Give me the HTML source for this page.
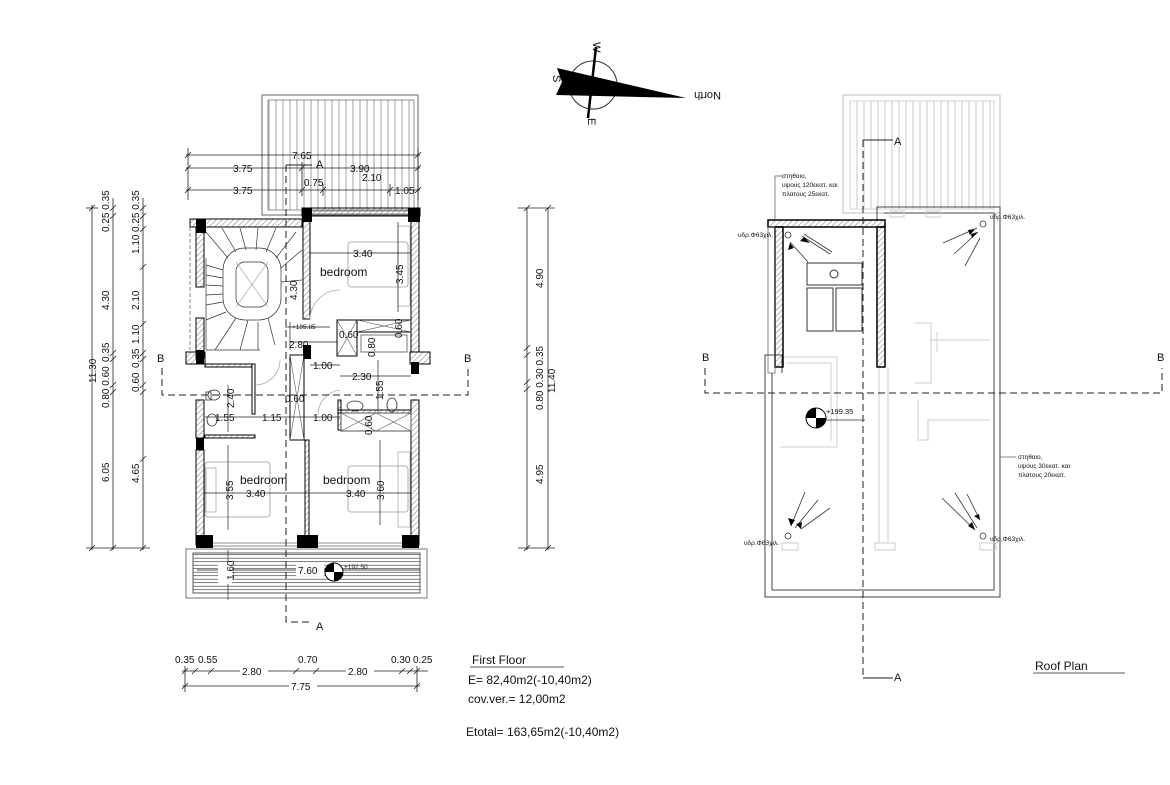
<!DOCTYPE html>
<html><head><meta charset="utf-8"><style>
html,body{margin:0;padding:0;background:#fff}
svg{display:block}
text{font-family:"Liberation Sans","DejaVu Sans",sans-serif;fill:#111}
.d{font-size:10px}
.s{font-size:6.5px}
</style></head><body>
<svg width="1170" height="785" viewBox="0 0 1170 785" xmlns="http://www.w3.org/2000/svg">
<defs>
<pattern id="vl" width="7" height="10" patternUnits="userSpaceOnUse"><line x1="3" y1="0" x2="3" y2="10" stroke="#888" stroke-width="0.8"/></pattern>
<pattern id="vl2" width="7" height="10" patternUnits="userSpaceOnUse"><line x1="3" y1="0" x2="3" y2="10" stroke="#bbb" stroke-width="0.8"/></pattern>
<pattern id="hl" width="10" height="3.5" patternUnits="userSpaceOnUse"><line x1="0" y1="1.7" x2="10" y2="1.7" stroke="#444" stroke-width="0.7"/></pattern>
<pattern id="hat" width="4" height="4" patternUnits="userSpaceOnUse" patternTransform="rotate(45)"><line x1="0" y1="0" x2="0" y2="4" stroke="#555" stroke-width="0.8"/></pattern>
</defs>

<!-- ===== FIRST FLOOR ===== -->
<rect x="262" y="95" width="156" height="120" fill="none" stroke="#666" stroke-width="1"/>
<rect x="268" y="100" width="146" height="110" fill="url(#vl)" stroke="#777" stroke-width="0.8"/>

<g stroke="#222" stroke-width="0.8" fill="none">
<line x1="186" y1="155" x2="420" y2="155"/>
<line x1="186" y1="168" x2="420" y2="168"/>
<line x1="186" y1="190" x2="420" y2="190"/>
<line x1="188" y1="148" x2="188" y2="200"/>
<line x1="418" y1="148" x2="418" y2="200"/>
<line x1="302" y1="162" x2="302" y2="196"/>
<line x1="323" y1="184" x2="323" y2="196"/>
<line x1="390" y1="184" x2="390" y2="196"/>
<path d="M185 158l6-6M185 171l6-6M185 193l6-6M415 158l6-6M415 171l6-6M415 193l6-6M299 171l6-6M299 193l6-6M320 193l6-6M387 193l6-6"/>
</g>
<text class="d" x="292" y="159">7.65</text>
<text class="d" x="233" y="172">3.75</text>
<text class="d" x="350" y="172">3.90</text>
<text class="d" x="362" y="181">2.10</text>
<text class="d" x="233" y="194">3.75</text>
<text class="d" x="304" y="186">0.75</text>
<text class="d" x="395" y="194">1.05</text>

<g stroke="#000" stroke-width="1">
<rect x="190" y="219" width="112" height="8" fill="url(#hat)"/>
<rect x="302" y="208" width="118" height="8" fill="url(#hat)"/>
<rect x="196" y="227" width="8" height="60" fill="url(#hat)"/>
<rect x="196" y="318" width="8" height="40" fill="url(#hat)"/>
<rect x="196" y="400" width="8" height="38" fill="url(#hat)"/>
<rect x="196" y="450" width="8" height="95" fill="url(#hat)"/>
<rect x="303" y="216" width="7" height="103" fill="url(#hat)"/>
<rect x="411" y="216" width="8" height="136" fill="url(#hat)"/>
<rect x="411" y="400" width="8" height="145" fill="url(#hat)"/>
<rect x="186" y="352" width="19" height="12" fill="url(#hat)"/>
<rect x="410" y="352" width="20" height="12" fill="url(#hat)"/>
<rect x="305" y="440" width="4" height="103" fill="url(#hat)"/>
</g>
<g fill="#000">
<rect x="196" y="219" width="10" height="14"/>
<rect x="302" y="208" width="10" height="14"/>
<rect x="408" y="208" width="12" height="14"/>
<rect x="196" y="350" width="8" height="14"/>
<rect x="303" y="345" width="8" height="14"/>
<rect x="411" y="362" width="8" height="12"/>
<rect x="196" y="438" width="8" height="12"/>
<rect x="196" y="535" width="17" height="13"/>
<rect x="297" y="535" width="21" height="13"/>
<rect x="402" y="535" width="17" height="13"/>
</g>
<g stroke="#666" stroke-width="0.8" fill="none">
<line x1="312" y1="211" x2="408" y2="211"/><line x1="312" y1="214" x2="408" y2="214"/>
<line x1="213" y1="543" x2="297" y2="543"/><line x1="213" y1="546" x2="297" y2="546"/>
<line x1="318" y1="543" x2="402" y2="543"/><line x1="318" y1="546" x2="402" y2="546"/>
<line x1="190" y1="227" x2="190" y2="350" stroke-dasharray="4 2"/>
</g>

<g stroke="#333" stroke-width="0.7" fill="none">
<rect x="236" y="262" width="32" height="45" rx="9"/>
<rect x="223" y="248" width="58" height="72" rx="22"/>
<line x1="236" y1="262" x2="268" y2="307" stroke="#aaa"/><line x1="268" y1="262" x2="236" y2="307" stroke="#aaa"/>
<path d="M206 232L228 258M222 228L236 252M240 228L246 250M258 228L256 250M276 228L266 252M296 232L276 258M302 250L281 268M302 280L281 282M206 265L223 270M206 275L223 278M206 285L223 286M206 295L223 294M206 305L223 302M206 320L226 312M215 350L236 318M240 350L248 320M258 350L258 322M275 345L268 318"/>
<line x1="206" y1="258" x2="206" y2="350"/>
<line x1="206" y1="350" x2="260" y2="350"/>
</g>

<g stroke="#000" stroke-width="1" fill="none">
<rect x="205" y="364" width="50" height="3" fill="url(#hat)"/>
<rect x="252" y="364" width="3" height="50" fill="#fff"/>
<rect x="205" y="435" width="50" height="3" fill="url(#hat)"/>
<rect x="290" y="355" width="14" height="85"/>
<path d="M290 355l14 85M304 355l-14 85" stroke="#555" stroke-width="0.6"/>
<rect x="337" y="320" width="20" height="36"/>
<path d="M337 320l20 36M357 320l-20 36" stroke="#555" stroke-width="0.6"/>
<rect x="357" y="320" width="54" height="12"/>
<path d="M357 320l54 12M411 320l-54 12" stroke="#555" stroke-width="0.6"/>
<rect x="361" y="335" width="46" height="17" stroke="#777"/>
<rect x="338" y="410" width="73" height="3" fill="url(#hat)"/>
<rect x="338" y="400" width="3" height="30" fill="url(#hat)"/>
<rect x="341" y="413" width="70" height="18" stroke="#555"/>
<path d="M341 413l35 18M376 413l-35 18M376 413l35 18M411 413l-35 18" stroke="#555" stroke-width="0.6"/>
</g>
<g stroke="#333" stroke-width="0.8" fill="none">
<ellipse cx="214" cy="395" rx="6" ry="5"/><rect x="206" y="392" width="5" height="8"/>
<ellipse cx="212" cy="420" rx="5" ry="6"/>
<ellipse cx="355" cy="406" rx="8" ry="5"/>
<ellipse cx="392" cy="405" rx="5" ry="7"/>
<path d="M310 320a30 30 0 0 1 30 -30" stroke="#aaa"/>
<path d="M255 385a25 25 0 0 0 25 -25" stroke="#aaa"/>
<path d="M318 415a25 25 0 0 1 22 -25" stroke="#aaa"/>
<rect x="348" y="242" width="60" height="45" rx="3" stroke="#999"/>
<rect x="398" y="226" width="12" height="80" stroke="#aaa"/>
<rect x="205" y="462" width="65" height="55" rx="3" stroke="#999"/>
<rect x="206" y="468" width="10" height="44" stroke="#aaa"/>
<rect x="348" y="466" width="60" height="46" rx="3" stroke="#999"/>
<rect x="398" y="452" width="12" height="75" stroke="#aaa"/>
</g>

<g stroke="#222" stroke-width="0.7" fill="none">
<line x1="309" y1="253" x2="411" y2="253"/>
<line x1="398" y1="222" x2="398" y2="312"/>
<line x1="290" y1="322" x2="290" y2="350"/>
<line x1="290" y1="342" x2="337" y2="342"/>
<line x1="285" y1="327" x2="330" y2="327"/>
<line x1="310" y1="365" x2="340" y2="365"/>
<line x1="340" y1="376" x2="411" y2="376"/>
<line x1="205" y1="417" x2="340" y2="417"/>
<line x1="204" y1="493" x2="411" y2="493"/>
<line x1="228" y1="445" x2="228" y2="530"/>
<line x1="380" y1="440" x2="380" y2="525"/>
<line x1="228" y1="385" x2="228" y2="432"/>
<line x1="378" y1="360" x2="378" y2="412"/>
<line x1="197" y1="570" x2="420" y2="570"/>
<line x1="228" y1="550" x2="228" y2="600"/>
</g>
<text class="d" x="353" y="257">3.40</text>
<text class="d" x="320" y="276" style="font-size:12px">bedroom</text>
<text class="d" transform="translate(403,284) rotate(-90)">3.45</text>
<text class="d" transform="translate(297,300) rotate(-90)">4.30</text>
<text class="d" x="289" y="348">2.80</text>
<text class="s" x="292" y="329">+195.85</text>
<text class="d" x="339" y="338">0.60</text>
<text class="d" transform="translate(402,338) rotate(-90)">0.60</text>
<text class="d" transform="translate(375,357) rotate(-90)">0.80</text>
<text class="d" x="313" y="369">1.00</text>
<text class="d" x="352" y="380">2.30</text>
<text class="d" transform="translate(383,400) rotate(-90)">1.55</text>
<text class="d" transform="translate(234,408) rotate(-90)">2.40</text>
<text class="d" x="285" y="402">0.60</text>
<text class="d" x="215" y="421">1.55</text>
<text class="d" x="262" y="421">1.15</text>
<text class="d" x="313" y="421">1.00</text>
<text class="d" transform="translate(372,435) rotate(-90)">0.60</text>
<text class="d" x="240" y="484" style="font-size:12px">bedroom</text>
<text class="d" x="323" y="484" style="font-size:12px">bedroom</text>
<text class="d" x="246" y="497">3.40</text>
<text class="d" x="346" y="497">3.40</text>
<text class="d" transform="translate(233,500) rotate(-90)">3.55</text>
<text class="d" transform="translate(384,500) rotate(-90)">3.60</text>

<rect x="186" y="549" width="241" height="49" fill="none" stroke="#555" stroke-width="0.8"/>
<rect x="193" y="553" width="227" height="40" fill="url(#hl)" stroke="#333" stroke-width="0.8"/>
<rect x="218" y="562" width="14" height="22" fill="#fff"/>
<text class="d" transform="translate(234,580) rotate(-90)">1.60</text>
<rect x="296" y="564" width="28" height="12" fill="#fff"/>
<text class="d" x="298" y="574">7.60</text>
<circle cx="334" cy="572" r="9" fill="#fff" stroke="#000"/>
<path d="M334 563a9 9 0 0 0 -9 9h9zM334 581a9 9 0 0 0 9 -9h-9z" fill="#000"/>
<text class="s" x="344" y="569">+192.50</text>

<g stroke="#222" stroke-width="1" fill="none">
<path d="M286 165V622h26" stroke-dasharray="7 4"/>
<path d="M286 165h26"/>
</g>
<text class="d" x="316" y="168" style="font-size:11px">A</text>
<text class="d" x="316" y="630" style="font-size:11px">A</text>
<path d="M162 368V395H468V368" fill="none" stroke="#222" stroke-width="1" stroke-dasharray="7 4"/>
<text x="157" y="362" style="font-size:11px">B</text>
<text x="464" y="362" style="font-size:11px">B</text>

<g stroke="#222" stroke-width="0.8" fill="none">
<line x1="92" y1="205" x2="92" y2="550"/>
<line x1="113" y1="198" x2="113" y2="550"/>
<line x1="143" y1="198" x2="143" y2="550"/>
<line x1="86" y1="548" x2="150" y2="548"/>
<line x1="86" y1="208" x2="98" y2="208"/>
<path d="M89 211l6-6M110 211l6-6M110 219l6-6M110 356l6-6M110 362l6-6M110 388l6-6M110 395l6-6M110 551l6-6M89 551l6-6M140 211l6-6M140 219l6-6M140 232l6-6M140 270l6-6M140 327l6-6M140 356l6-6M140 362l6-6M140 388l6-6M140 395l6-6M140 462l6-6M140 551l6-6"/>
<line x1="527" y1="208" x2="527" y2="550"/>
<line x1="548" y1="208" x2="548" y2="550"/>
<line x1="518" y1="208" x2="555" y2="208"/>
<line x1="518" y1="548" x2="555" y2="548"/>
<path d="M524 211l6-6M545 211l6-6M524 351l6-6M524 358l6-6M524 385l6-6M524 392l6-6M524 551l6-6M545 551l6-6"/>
</g>
<text class="d" transform="translate(96,383) rotate(-90)">11.30</text>
<text class="d" transform="translate(109,232) rotate(-90)">0.25 0.35</text>
<text class="d" transform="translate(109,310) rotate(-90)">4.30</text>
<text class="d" transform="translate(109,362) rotate(-90)">0.35</text>
<text class="d" transform="translate(109,408) rotate(-90)">0.80 0.60</text>
<text class="d" transform="translate(109,482) rotate(-90)">6.05</text>
<text class="d" transform="translate(139,232) rotate(-90)">0.25 0.35</text>
<text class="d" transform="translate(139,254) rotate(-90)">1.10</text>
<text class="d" transform="translate(139,310) rotate(-90)">2.10</text>
<text class="d" transform="translate(139,344) rotate(-90)">1.10</text>
<text class="d" transform="translate(139,368) rotate(-90)">0.35</text>
<text class="d" transform="translate(139,392) rotate(-90)">0.60</text>
<text class="d" transform="translate(139,483) rotate(-90)">4.65</text>
<text class="d" transform="translate(543,288) rotate(-90)">4.90</text>
<text class="d" transform="translate(543,410) rotate(-90)">0.80 0.30 0.35</text>
<text class="d" transform="translate(555,393) rotate(-90)">11.40</text>
<text class="d" transform="translate(543,484) rotate(-90)">4.95</text>

<g stroke="#222" stroke-width="0.8" fill="none">
<line x1="182" y1="671" x2="428" y2="671"/>
<line x1="182" y1="686" x2="420" y2="686"/>
<line x1="185" y1="666" x2="185" y2="692"/>
<line x1="417" y1="666" x2="417" y2="692"/>
<path d="M182 674l6-6M192 674l6-6M208 674l6-6M293 674l6-6M313 674l6-6M399 674l6-6M407 674l6-6M414 674l6-6M182 689l6-6M414 689l6-6"/>
</g>
<text class="d" x="175" y="663">0.35</text><text class="d" x="198" y="663">0.55</text>
<text class="d" x="298" y="663">0.70</text>
<text class="d" x="391" y="663">0.30</text><text class="d" x="413" y="663">0.25</text>
<rect x="240" y="666" width="28" height="10" fill="#fff"/><text class="d" x="242" y="675">2.80</text>
<rect x="346" y="666" width="28" height="10" fill="#fff"/><text class="d" x="348" y="675">2.80</text>
<rect x="289" y="681" width="28" height="10" fill="#fff"/><text class="d" x="291" y="690">7.75</text>

<text x="472" y="664" style="font-size:12px">First Floor</text>
<line x1="470" y1="667" x2="564" y2="667" stroke="#222" stroke-width="0.8"/>
<text x="468" y="684" style="font-size:12px">E= 82,40m2(-10,40m2)</text>
<text x="468" y="703" style="font-size:12px">cov.ver.= 12,00m2</text>
<text x="466" y="736" style="font-size:12px">Etotal= 163,65m2(-10,40m2)</text>

<circle cx="593" cy="85" r="24" fill="none" stroke="#333" stroke-width="1"/>
<line x1="596" y1="47" x2="588" y2="118" stroke="#000" stroke-width="2.5"/>
<polygon points="557,68 686,98 556,95 562,82" fill="#000"/>
<text x="549" y="79" style="font-size:11px" transform="rotate(90 553 79)">S</text>
<text x="589" y="46" style="font-size:11px" transform="rotate(90 593 46)">W</text>
<text x="584" y="122" style="font-size:11px" transform="rotate(90 588 122)">E</text>
<text x="689" y="98" style="font-size:11px" transform="rotate(180 705 95)">North</text>

<!-- ===== ROOF PLAN ===== -->
<rect x="843" y="95" width="157" height="118" fill="none" stroke="#bbb" stroke-width="1"/>
<rect x="850" y="101" width="144" height="108" fill="url(#vl2)" stroke="#ccc" stroke-width="0.8"/>
<g fill="none" stroke="#444" stroke-width="1">
<path d="M877 220V207H1000V597H765V355H782V373"/>
<path d="M772 373V590H994V213H884"/>
</g>
<g fill="none" stroke="#ccc" stroke-width="1">
<path d="M781 357h56v90h-57M787 363h44v78"/>
<path d="M915 323h16v60h-16M930 340h60M937 332v20M918 400v40h10v-20h62"/>
<rect x="875" y="543" width="20" height="7"/><rect x="782" y="543" width="16" height="7"/>
<rect x="980" y="543" width="16" height="7"/>
<rect x="890" y="211" width="14" height="6"/><rect x="926" y="211" width="14" height="6"/>
<line x1="879" y1="367" x2="879" y2="543"/><line x1="888" y1="367" x2="888" y2="543"/>
</g>
<rect x="768" y="220" width="117" height="7" fill="url(#hat)" stroke="#000" stroke-width="1.5"/>
<rect x="775" y="227" width="8" height="140" fill="url(#hat)" stroke="#000" stroke-width="1.5"/>
<rect x="877" y="227" width="8" height="140" fill="url(#hat)" stroke="#000" stroke-width="1.5"/>
<rect x="768" y="227" width="7" height="146" fill="none" stroke="#555" stroke-width="0.7"/>
<g fill="none" stroke="#333" stroke-width="1">
<rect x="807" y="263" width="55" height="22"/>
<circle cx="834" cy="274" r="4"/>
<rect x="807" y="288" width="26" height="43"/><rect x="836" y="288" width="26" height="43"/>
</g>
<g fill="none" stroke="#333" stroke-width="0.8">
<circle cx="788" cy="235" r="3"/><circle cx="983" cy="224" r="3"/>
<circle cx="788" cy="536" r="3"/><circle cx="983" cy="536" r="3"/>
<path d="M830 254L802 236M808 262L790 242M832 252l-28 -18"/>
<path d="M943 243L977 228M954 254L978 232M965 266L980 238"/>
<path d="M805 492L791 526M818 500L795 528M830 508L801 529"/>
<path d="M942 498L975 530M955 493L977 528M967 494L980 520"/>
</g>
<g fill="#000">
<polygon points="804,237 810,243 800,241"/><polygon points="790,243 794,248 788,250"/>
<polygon points="975,229 970,235 968,230"/><polygon points="978,232 972,238 971,234"/>
<polygon points="791,526 788,518 795,520"/><polygon points="801,529 796,524 802,522"/>
<polygon points="975,530 968,526 972,522"/><polygon points="980,520 974,516 979,514"/>
</g>
<text class="s" x="990" y="219">υδρ.Φ63χιλ.</text>
<text class="s" x="738" y="237">υδρ.Φ63χιλ.</text>
<text class="s" x="744" y="545">υδρ.Φ63χιλ.</text>
<text class="s" x="990" y="541">υδρ.Φ63χιλ.</text>
<path d="M775 220V176h7" fill="none" stroke="#555" stroke-width="0.7"/>
<text class="s" x="782" y="178">στηθαιο,</text>
<text class="s" x="782" y="187">υψους 120εκατ. και</text>
<text class="s" x="782" y="196">πλατους 25εκατ.</text>
<line x1="1000" y1="457" x2="1016" y2="457" stroke="#555" stroke-width="0.7"/>
<text class="s" x="1018" y="459">στηθαιο,</text>
<text class="s" x="1018" y="468">υψους 30εκατ. και</text>
<text class="s" x="1018" y="477">πλατους 20εκατ.</text>
<circle cx="816" cy="418" r="10" fill="#fff" stroke="#000"/>
<path d="M816 408a10 10 0 0 0 -10 10h10zM816 428a10 10 0 0 0 10 -10h-10z" fill="#000"/>
<line x1="826" y1="420" x2="865" y2="420" stroke="#333" stroke-width="0.7"/>
<text class="s" x="826" y="414" style="font-size:7.5px">+199.35</text>
<path d="M863 140V678" fill="none" stroke="#222" stroke-width="1" stroke-dasharray="7 4"/>
<path d="M863 140h30M863 678h30" stroke="#222" stroke-width="1"/>
<text x="894" y="145" style="font-size:11px">A</text>
<text x="894" y="681" style="font-size:11px">A</text>
<path d="M705 368V393H1162V368" fill="none" stroke="#222" stroke-width="1" stroke-dasharray="7 4"/>
<text x="702" y="361" style="font-size:11px">B</text>
<text x="1157" y="361" style="font-size:11px">B</text>
<text x="1035" y="670" style="font-size:12px">Roof  Plan</text>
<line x1="1033" y1="673" x2="1125" y2="673" stroke="#222" stroke-width="0.8"/>
</svg>
</body></html>
